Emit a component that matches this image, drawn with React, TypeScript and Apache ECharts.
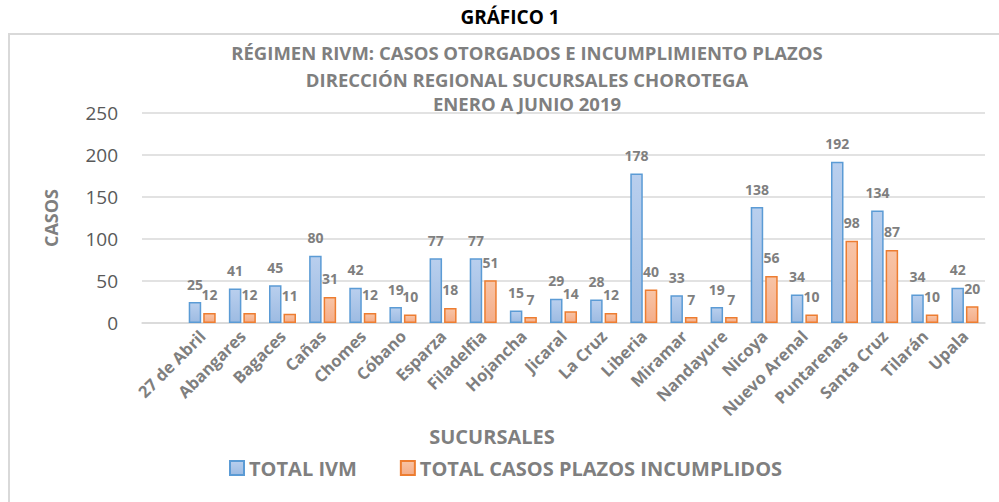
import React, { useEffect, useRef } from "react";
import * as echarts from "echarts";

const categories = ["", "27 de Abril", "Abangares", "Bagaces", "Cañas", "Chomes", "Cóbano", "Esparza", "Filadelfia", "Hojancha", "Jicaral", "La Cruz", "Liberia", "Miramar", "Nandayure", "Nicoya", "Nuevo Arenal", "Puntarenas", "Santa Cruz", "Tilarán", "Upala"];
const totalIVM = [null, 25, 41, 45, 80, 42, 19, 77, 77, 15, 29, 28, 178, 33, 19, 138, 34, 192, 134, 34, 42];
const totalIncumplidos = [null, 12, 12, 11, 31, 12, 10, 18, 51, 7, 14, 12, 40, 7, 7, 56, 10, 98, 87, 10, 20];
const seriesNames = ["TOTAL IVM", "TOTAL CASOS PLAZOS INCUMPLIDOS"];
const yTicks = { min: 0, max: 250, interval: 50 };
const titleLines = [
  "RÉGIMEN RIVM: CASOS OTORGADOS E INCUMPLIMIENTO PLAZOS",
  "DIRECCIÓN REGIONAL SUCURSALES CHOROTEGA",
  "ENERO A JUNIO 2019",
];

const FONT = "'Open Sans', 'Noto Sans', sans-serif";
const GRAY = "#7f7f7f";

export default function App() {
  const ref = useRef<HTMLDivElement>(null);
  useEffect(() => {
    if (!ref.current) return;
    const chart = echarts.init(ref.current, null, { renderer: "svg" });
    const labelStyle = {
      show: true,
      position: "top" as const,
      distance: 11,
      fontFamily: FONT,
      fontWeight: "bold" as const,
      fontSize: 14,
      color: GRAY,
    };
    chart.setOption({
      animation: false,
      backgroundColor: "#ffffff",
      textStyle: { fontFamily: FONT },
      graphic: [
        {
          type: "rect",
          shape: { x: 9, y: 34, width: 1000, height: 480 },
          style: { fill: "none", stroke: "#d9d9d9", lineWidth: 2 },
          silent: true,
        },
        {
          type: "text",
          x: 510,
          y: 17,
          style: {
            text: "GRÁFICO 1",
            fontFamily: FONT,
            fontWeight: "bold",
            fontSize: 19,
            fill: "#000000",
            textAlign: "center",
            textVerticalAlign: "middle",
          },
        },
        ...titleLines.map((t, i) => ({
          type: "text",
          x: 527,
          y: [52, 79, 103][i],
          z: 10,
          style: {
            text: t,
            fontFamily: FONT,
            fontWeight: "bold",
            fontSize: 18.5,
            fill: GRAY,
            textAlign: "center",
            textVerticalAlign: "middle",
          },
        })),
        {
          type: "text",
          x: 492,
          y: 436,
          style: {
            text: "SUCURSALES",
            fontFamily: FONT,
            fontWeight: "bold",
            fontSize: 20,
            fill: GRAY,
            textAlign: "center",
            textVerticalAlign: "middle",
          },
        },
      ],
      legend: {
        left: 224,
        top: 453,
        itemWidth: 14,
        itemHeight: 14,
        itemGap: 43,
        icon: "rect",
        textStyle: { fontFamily: FONT, fontWeight: "bold", fontSize: 20, color: GRAY },
        data: seriesNames,
      },
      grid: { left: 142, right: 14, top: 113, bottom: 179, containLabel: false },
      xAxis: {
        type: "category",
        data: categories,
        axisLine: { show: true, lineStyle: { color: "#d9d9d9", width: 1.5 } },
        axisTick: { show: false },
        axisLabel: {
          interval: 0,
          rotate: 45,
          margin: 10,
          fontFamily: FONT,
          fontWeight: "bold",
          fontSize: 16.5,
          color: GRAY,
        },
      },
      yAxis: {
        type: "value",
        min: yTicks.min,
        max: yTicks.max,
        interval: yTicks.interval,
        name: "CASOS",
        nameLocation: "middle",
        nameGap: 82,
        nameRotate: 90,
        nameTextStyle: { fontFamily: FONT, fontWeight: "bold", fontSize: 18, color: GRAY },
        axisLine: { show: false },
        axisTick: { show: false },
        axisLabel: { margin: 24, fontFamily: FONT, fontSize: 19, color: "#595959" },
        splitLine: { lineStyle: { color: "#d9d9d9", width: 1.5 } },
      },
      series: [
        {
          name: seriesNames[0],
          type: "bar",
          data: totalIVM,
          barWidth: 12.5,
          barGap: "16%",
          itemStyle: {
            color: new echarts.graphic.LinearGradient(0, 0, 0, 1, [
              { offset: 0, color: "#b9cfee" },
              { offset: 1, color: "#9dbbe2" },
            ]),
            borderColor: "#5b9bd5",
            borderWidth: 1.5,
          },
          label: labelStyle,
        },
        {
          name: seriesNames[1],
          type: "bar",
          data: totalIncumplidos,
          barWidth: 12.5,
          itemStyle: {
            color: new echarts.graphic.LinearGradient(0, 0, 0, 1, [
              { offset: 0, color: "#f8c4a6" },
              { offset: 1, color: "#f4ad89" },
            ]),
            borderColor: "#ed7d31",
            borderWidth: 1.5,
          },
          label: labelStyle,
        },
      ],
    });
    return () => chart.dispose();
  }, []);
  return (
    <div
      ref={ref}
      style={{ position: "fixed", left: 0, top: 0, width: 999, height: 502 }}
    />
  );
}
